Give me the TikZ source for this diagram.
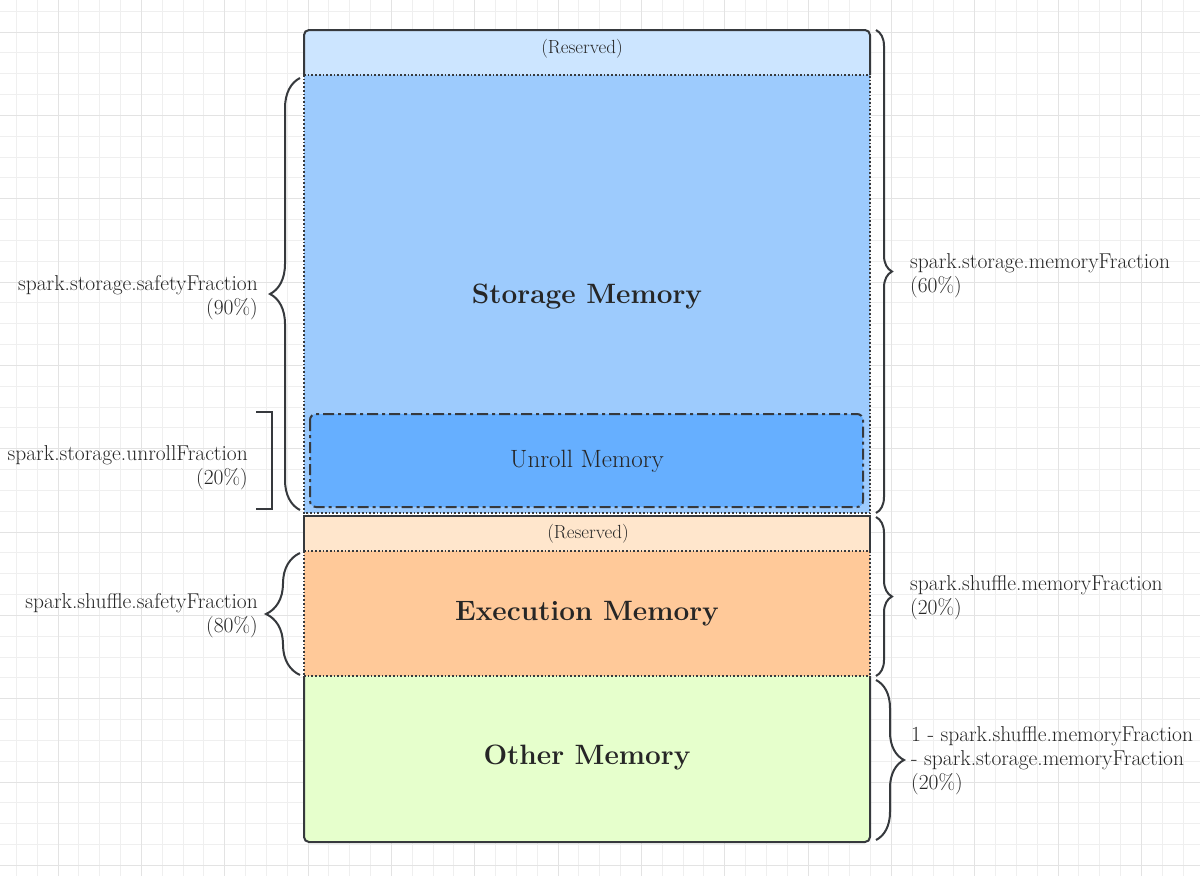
\documentclass[tikz,border=0pt]{standalone}
\usetikzlibrary{decorations.pathreplacing}
\definecolor{gridminor}{HTML}{EFEFEF}
\definecolor{gridmajor}{HTML}{E3E3E3}
\definecolor{edge}{HTML}{36393D}
\definecolor{resvA}{HTML}{CCE5FF}
\definecolor{storfill}{HTML}{9DCBFD}
\definecolor{unrollfill}{HTML}{66AFFF}
\definecolor{resvB}{HTML}{FFE6CC}
\definecolor{execfill}{HTML}{FFC999}
\definecolor{otherfill}{HTML}{E6FFCC}
\definecolor{txt}{HTML}{262626}
\begin{document}
\begin{tikzpicture}[x=1pt,y=-1pt,
  solidedge/.style={draw=edge,line width=2pt},
  dotedge/.style={draw=edge,line width=1.7pt,dash pattern=on 1.7pt off 2pt},
  bracestyle/.style={draw=edge,line width=2pt,decorate,decoration={brace,amplitude=#1}},
  title/.style={text=txt,font=\bfseries\fontsize{28}{32}\selectfont,inner sep=0pt},
  small/.style={text=txt,font=\fontsize{19}{22}\selectfont,inner sep=0pt},
  lbl/.style={text=txt,font=\fontsize{21.5}{24}\selectfont,inner sep=0pt},
]
\useasboundingbox (0,0) rectangle (1200,876);
\fill[white] (0,0) rectangle (1200,876);
% grid
\foreach \k in {-3,...,56} {\draw[gridminor,line width=1pt] ({58+\k*20.8333},0) -- ({58+\k*20.8333},876);}
\foreach \k in {-2,...,42} {\draw[gridminor,line width=1pt] (0,{32+\k*20.8333}) -- (1200,{32+\k*20.8333});}
\foreach \k in {-1,...,14} {\draw[gridmajor,line width=1pt] ({58+\k*83.3333},0) -- ({58+\k*83.3333},876);}
\foreach \k in {-1,...,10} {\draw[gridmajor,line width=1pt] (0,{32+\k*83.3333}) -- (1200,{32+\k*83.3333});}
% fills
\fill[resvA] (304,75) {[rounded corners=5pt] -- (304,30) -- (870,30)} -- (870,75) -- cycle;
\fill[storfill] (304,75) rectangle (870,513);
\fill[unrollfill,rounded corners=6pt] (310,414) rectangle (863,507);
\fill[resvB] (304,516) rectangle (870,551);
\fill[execfill] (304,551) rectangle (870,676);
\fill[otherfill] (304,676) {[rounded corners=5pt] -- (304,842) -- (870,842)} -- (870,676) -- cycle;
% storage group borders
\draw[solidedge,rounded corners=5pt] (304,75) -- (304,30) -- (870,30) -- (870,75);
\draw[dotedge] (304,75) -- (870,75);
\draw[dotedge] (304,75) -- (304,513) -- (870,513) -- (870,75);
% unroll
\draw[draw=edge,line width=2pt,rounded corners=6pt,dash pattern=on 11pt off 4pt on 3pt off 4pt] (310,414) rectangle (863,507);
% execution group borders
\draw[solidedge] (304,551) -- (304,516) -- (870,516) -- (870,551);
\draw[dotedge] (304,551) -- (870,551);
\draw[dotedge] (304,551) -- (304,676);
\draw[dotedge] (870,551) -- (870,676);
% other
\draw[dotedge] (304,676) -- (870,676);
\draw[solidedge,rounded corners=5pt] (304,676) -- (304,842) -- (870,842) -- (870,676);
% texts in boxes
\node[small] (resv1) at (582,49) {(Reserved)};
\node[title] (stor) at (587,297) {Storage Memory};
\node[text=txt,font=\fontsize{25}{28}\selectfont,inner sep=0pt] (unroll) at (587,461) {Unroll Memory};
\node[small] (resv2) at (588,534) {(Reserved)};
\node[title] (exec) at (587,614) {Execution Memory};
\node[title] (other) at (587,758) {Other Memory};
% braces right
\draw[bracestyle=16pt] (876,30) -- (876,513);
\draw[bracestyle=16pt] (876,517) -- (876,676);
\draw[bracestyle=28pt] (876,680) -- (876,840);
% braces left
\draw[bracestyle=30pt] (300,510) -- (300,78);
\draw[bracestyle=34pt] (300,675) -- (300,553);
\draw[draw=edge,line width=2pt] (256,412) -- (272,412) -- (272,509) -- (256,509);
% labels right
\node[lbl,anchor=west,align=left] (smf) at (910,276) {spark.storage.memoryFraction\\(60\%)};
\node[lbl,anchor=west,align=left] (shmf) at (910,598) {spark.shuffle.memoryFraction\\(20\%)};
\node[lbl,anchor=west,align=left] (omf) at (911,761) {1 - spark.shuffle.memoryFraction\\- spark.storage.memoryFraction\\(20\%)};
% labels left
\node[lbl,anchor=east,align=right] (ssf) at (258,298) {spark.storage.safetyFraction\\(90\%)};
\node[lbl,anchor=east,align=right] (suf) at (248,468) {spark.storage.unrollFraction\\(20\%)};
\node[lbl,anchor=east,align=right] (shsf) at (258,616) {spark.shuffle.safetyFraction\\(80\%)};
\end{tikzpicture}
\end{document}
